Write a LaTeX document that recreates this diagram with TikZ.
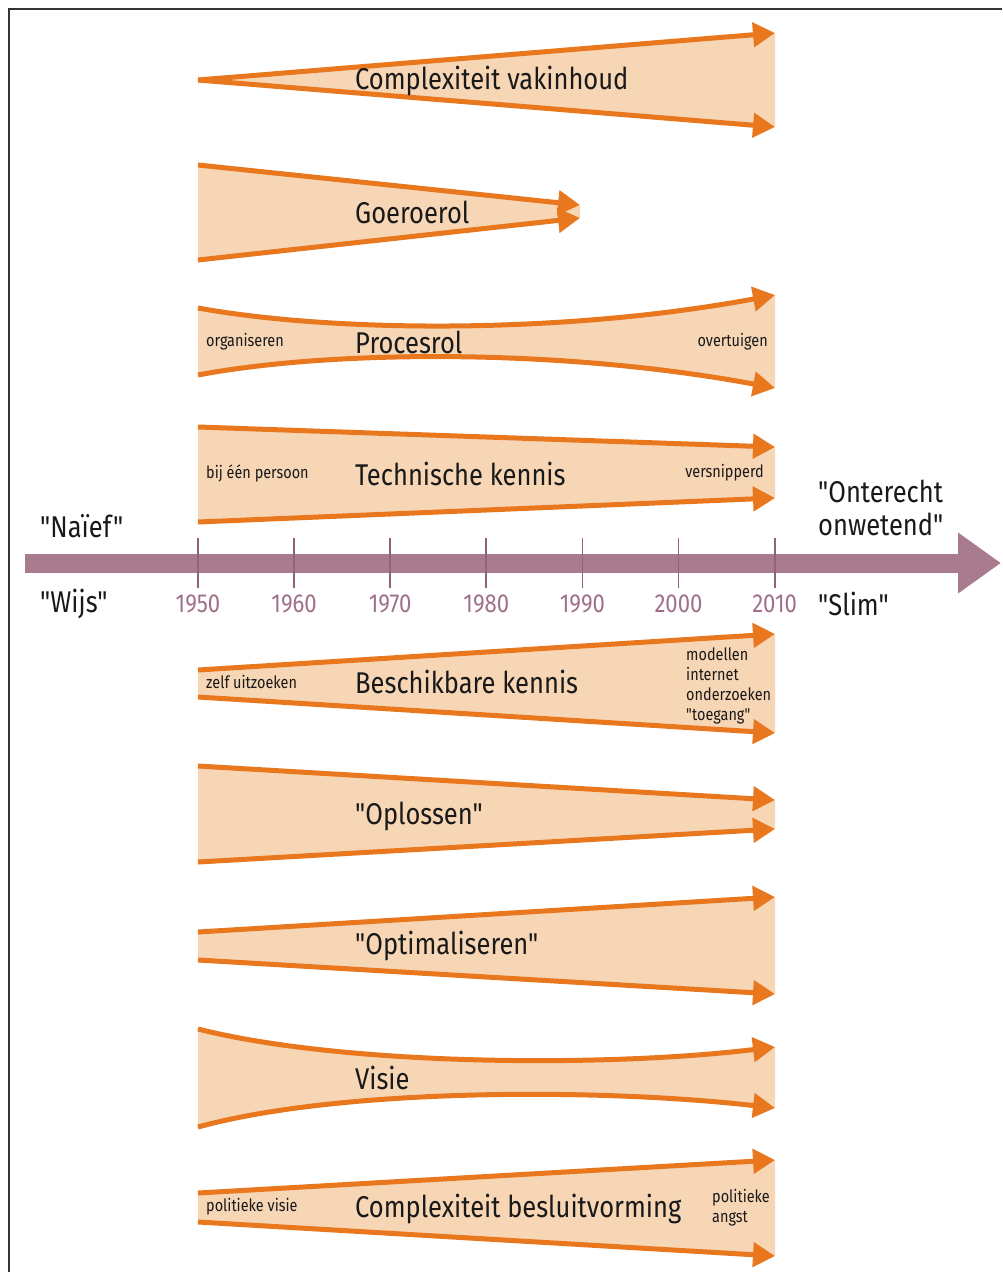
\documentclass[tikz,border=0pt]{standalone}
\usepackage{fontspec}
\setmainfont{Fira Sans}[FakeStretch=0.85, Ligatures=TeXOff]
\usepackage{xcolor}
\usetikzlibrary{arrows.meta,calc}

\definecolor{bandfill}{HTML}{F7D6B6}
\definecolor{bandline}{HTML}{E8771E}
\definecolor{axiscol}{HTML}{A97B8F}
\definecolor{tickcol}{HTML}{93627A}
\definecolor{yearcol}{HTML}{A0708A}

\begin{document}
\begin{tikzpicture}[x=1pt, y=-1pt,
    band/.style={fill=bandfill, draw=none},
    edge/.style={draw=bandline, line width=5pt, -{Triangle[length=22pt,width=24pt]}},
    biglabel/.style={font=\fontsize{30}{33}\selectfont, text=black!90, inner sep=0pt, anchor=west},
    smalllabel/.style={font=\fontsize{17}{20}\selectfont, text=black!90, inner sep=0pt},
    sidelabel/.style={font=\fontsize{30}{33}\selectfont, text=black!90, inner sep=0pt, align=left},
    yearlabel/.style={font=\fontsize{26}{28}\selectfont, text=yearcol, inner sep=0pt},
    axis/.style={draw=axiscol, line width=19pt, -{Triangle[length=43pt,width=58pt]}},
    tick/.style={draw=tickcol, line width=1.8pt}]

    \useasboundingbox (0,0) rectangle (1002,1272);
    \draw[black!80, line width=2.5pt] (1002,9) -- (9,9) -- (9,1272);

    % Complexiteit vakinhoud
    \coordinate (cvs) at (198,80);
    \coordinate (cvt) at (775,33);
    \coordinate (cvb) at (775,127);
    \fill[band] (cvs) -- (cvt) -- (cvb) -- cycle;
    \draw[edge] (cvs) -- (cvt);
    \draw[edge] (cvs) -- (cvb);
    \node[biglabel] (cvlab) at (355,81) {Complexiteit vakinhoud};

    % Goeroerol
    \coordinate (gts) at (198,165);
    \coordinate (gte) at (580,205);
    \coordinate (gbs) at (198,260);
    \coordinate (gbe) at (580,218);
    \fill[band] (gts) -- (gte) -- (gbe) -- (gbs) -- cycle;
    \draw[edge] (gts) -- (gte);
    \draw[edge] (gbs) -- (gbe);
    \node[biglabel] (glab) at (355,212) {Goeroerol};

    % Procesrol
    \coordinate (pts) at (198,308);
    \coordinate (pte) at (775,295);
    \coordinate (pbs) at (198,375);
    \coordinate (pbe) at (775,388);
    \fill[band] (pts) .. controls (330,332) and (560,335) .. (pte) -- (pbe)
        .. controls (560,348) and (330,350) .. (pbs) -- cycle;
    \draw[edge] (pts) .. controls (330,332) and (560,335) .. (pte);
    \draw[edge] (pbs) .. controls (330,350) and (560,348) .. (pbe);
    \node[smalllabel, anchor=west] (porg) at (206,342) {organiseren};
    \node[biglabel] (plab) at (355,342) {Procesrol};
    \node[smalllabel, anchor=east] (povt) at (768,342) {overtuigen};

    % Technische kennis
    \coordinate (tts) at (198,427);
    \coordinate (tte) at (775,447);
    \coordinate (tbs) at (198,522);
    \coordinate (tbe) at (775,498);
    \fill[band] (tts) -- (tte) -- (tbe) -- (tbs) -- cycle;
    \draw[edge] (tts) -- (tte);
    \draw[edge] (tbs) -- (tbe);
    \node[smalllabel, anchor=west] (tbij) at (206,473) {bij één persoon};
    \node[biglabel] (tlab) at (355,474) {Technische kennis};
    \node[smalllabel, anchor=east] (tver) at (764,473) {versnipperd};

    % tijdas
    \coordinate (axs) at (25,563);
    \coordinate (axe) at (1001,563);
    \draw[axis] (axs) -- (axe);
    \foreach \yr [count=\i from 0] in {1950,1960,...,2010} {
        \draw[tick] ({198+\i*96.1},538) -- ({198+\i*96.1},588);
        \node[yearlabel] (y\yr) at ({198+\i*96.1},604) {\yr};
    }
    \node[sidelabel, anchor=west] (naief) at (40,526) {"Naïef"};
    \node[sidelabel, anchor=west] (wijs) at (40,604) {"Wijs"};
    \node[sidelabel, anchor=west] (onterecht) at (818,508) {"Onterecht\\onwetend"};
    \node[sidelabel, anchor=west] (slim) at (818,604) {"Slim"};

    % Beschikbare kennis
    \coordinate (bts) at (198,670);
    \coordinate (bte) at (775,634);
    \coordinate (bbs) at (198,697);
    \coordinate (bbe) at (775,733);
    \fill[band] (bts) -- (bte) -- (bbe) -- (bbs) -- cycle;
    \draw[edge] (bts) -- (bte);
    \draw[edge] (bbs) -- (bbe);
    \node[smalllabel, anchor=west] (bzelf) at (206,682) {zelf uitzoeken};
    \node[biglabel] (blab) at (355,682) {Beschikbare kennis};
    \node[smalllabel, anchor=west, align=left] (bmod) at (686,686)
        {modellen\\internet\\onderzoeken\\"toegang"};

    % Oplossen
    \coordinate (ots) at (198,766);
    \coordinate (ote) at (775,800);
    \coordinate (obs) at (198,862);
    \coordinate (obe) at (775,829);
    \fill[band] (ots) -- (ote) -- (obe) -- (obs) -- cycle;
    \draw[edge] (ots) -- (ote);
    \draw[edge] (obs) -- (obe);
    \node[biglabel] (olab) at (355,816) {"Oplossen"};

    % Optimaliseren
    \coordinate (mts) at (198,932);
    \coordinate (mte) at (775,897);
    \coordinate (mbs) at (198,960);
    \coordinate (mbe) at (775,994);
    \fill[band] (mts) -- (mte) -- (mbe) -- (mbs) -- cycle;
    \draw[edge] (mts) -- (mte);
    \draw[edge] (mbs) -- (mbe);
    \node[biglabel] (mlab) at (355,946) {"Optimaliseren"};

    % Visie
    \coordinate (vts) at (198,1029);
    \coordinate (vte) at (775,1047);
    \coordinate (vbs) at (198,1127);
    \coordinate (vbe) at (775,1108);
    \fill[band] (vts) .. controls (340,1065) and (600,1068) .. (vte) -- (vbe)
        .. controls (600,1088) and (340,1088) .. (vbs) -- cycle;
    \draw[edge] (vts) .. controls (340,1065) and (600,1068) .. (vte);
    \draw[edge] (vbs) .. controls (340,1088) and (600,1088) .. (vbe);
    \node[biglabel] (vlab) at (355,1078) {Visie};

    % Complexiteit besluitvorming
    \coordinate (kts) at (198,1193);
    \coordinate (kte) at (775,1160);
    \coordinate (kbs) at (198,1222);
    \coordinate (kbe) at (775,1256);
    \fill[band] (kts) -- (kte) -- (kbe) -- (kbs) -- cycle;
    \draw[edge] (kts) -- (kte);
    \draw[edge] (kbs) -- (kbe);
    \node[smalllabel, anchor=west] (kvis) at (206,1207) {politieke visie};
    \node[biglabel] (klab) at (355,1209) {Complexiteit besluitvorming};
    \node[smalllabel, anchor=west, align=left] (kang) at (712,1208) {politieke\\angst};

\end{tikzpicture}
\end{document}
